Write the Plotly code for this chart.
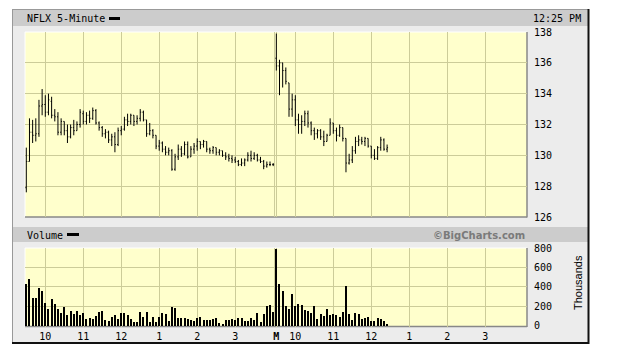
import plotly.graph_objects as go

W, H = 619, 349
def X(p): return p / W
def Y(p): return 1 - p / H

# ---------------- data ----------------
# Day 1 (Friday) 5-minute bars, 9:30 .. 16:00
day1_open = [127.9,129.6,131.5,131.3,131.4,133.2,133.3,132.8,133.5,132.6,
             132.5,131.5,132.2,131.6,131.2,131.8,131.6,132.0,132.7,132.2,
             132.6,132.4,132.9,132.1,131.8,131.4,131.5,131.0,131.2,130.7,
             131.6,131.7,132.3,132.2,132.6,132.2,132.4,132.8,132.3,131.4,
             131.6,131.3,130.6,130.8,130.4,130.2,130.3,129.1,129.9,130.4,
             130.1,130.7,129.9,130.4,130.6,130.9,130.7,130.9,130.4,130.3,
             130.5,130.2,130.3,130.0,129.9,129.8,129.7,129.6,129.4,129.5,
             129.7,130.0,129.8,130.0,129.7,129.6,129.3,129.4,129.4]
day1_high = [130.5,132.4,132.3,132.4,133.6,134.3,133.9,134.0,133.8,133.0,
             132.8,132.4,132.2,132.0,132.0,132.3,132.2,133.0,132.9,132.8,
             132.9,133.1,133.0,132.2,131.9,131.7,131.6,131.4,131.5,131.8,
             131.9,132.5,132.7,132.7,132.6,132.6,133.0,132.9,132.3,132.1,
             131.7,131.3,131.0,130.9,130.6,130.5,130.4,130.1,130.7,130.6,
             130.9,130.9,130.6,130.8,131.1,130.9,131.0,130.9,130.5,130.6,
             130.5,130.4,130.3,130.2,130.1,130.0,129.9,129.7,129.8,129.8,
             130.2,130.3,130.2,130.1,129.9,129.7,129.6,129.6,129.5]
day1_low = [127.6,129.6,130.8,130.9,131.2,132.6,132.5,132.6,132.4,132.2,
            131.3,131.3,131.3,130.8,131.1,131.3,131.6,131.8,132.0,132.0,
            132.1,132.3,132.0,131.6,131.2,131.1,130.8,130.6,130.2,130.6,
            131.3,131.6,131.9,132.0,131.9,132.0,132.2,132.2,131.2,131.3,
            131.1,130.4,130.3,130.2,130.0,130.0,129.0,129.0,129.7,129.9,
            130.0,129.8,129.9,130.1,130.3,130.4,130.5,130.2,130.1,130.1,
            130.0,130.0,129.9,129.7,129.6,129.5,129.5,129.3,129.3,129.3,
            129.6,129.6,129.7,129.6,129.5,129.1,129.2,129.3,129.3]
day1_close = [129.6,131.5,131.3,131.4,133.2,133.3,132.8,133.6,132.6,132.5,
              131.5,132.2,131.6,131.2,131.8,131.6,132.0,132.8,132.2,132.6,
              132.4,132.9,132.1,131.8,131.4,131.5,131.0,131.2,130.7,131.6,
              131.7,132.3,132.2,132.6,132.2,132.4,132.8,132.3,131.4,131.6,
              131.3,130.6,130.8,130.4,130.2,130.3,129.1,129.9,130.4,130.1,
              130.7,129.9,130.4,130.6,130.9,130.7,130.9,130.4,130.3,130.5,
              130.2,130.3,130.0,129.9,129.8,129.7,129.6,129.4,129.5,129.7,
              130.0,129.8,130.0,129.7,129.6,129.3,129.4,129.4,129.4]
day1_volume = [431,483,290,290,393,359,235,172,276,224,
               172,128,193,110,152,117,152,110,131,66,
               83,69,104,138,148,55,48,90,107,69,
               131,131,107,69,38,38,138,86,138,38,
               93,35,90,135,121,45,193,183,79,79,
               79,72,55,45,83,93,55,55,62,69,
               83,28,14,59,59,69,59,76,83,48,
               48,79,55,131,41,121,204,214,145]

# Day 2 (Monday) 5-minute bars, 9:30 .. 12:25
day2_open = [136.3,135.8,136.0,135.5,134.7,133.0,133.6,132.3,132.0,132.2,
             132.7,132.1,131.6,131.4,131.6,131.2,130.9,131.3,132.1,131.6,
             131.3,131.8,131.1,129.5,129.7,130.3,130.9,131.0,130.9,131.1,
             130.6,130.0,129.8,130.5,131.0,130.4]
day2_high = [137.9,136.2,136.0,135.7,134.7,134.0,133.9,132.7,132.6,132.9,
             132.9,132.2,131.8,131.7,131.7,131.6,131.4,132.4,132.1,131.8,
             132.0,131.8,131.1,130.1,130.6,131.2,131.3,131.2,131.2,131.1,
             130.6,130.4,130.6,131.2,131.1,130.7]
day2_low = [135.5,133.9,134.4,134.6,132.5,132.5,131.9,131.4,131.4,131.9,
            131.8,131.3,131.0,131.1,131.0,130.6,130.9,131.3,131.4,130.9,
            131.2,130.9,128.9,129.4,129.5,130.1,130.6,130.7,130.6,130.5,
            129.8,129.7,129.7,130.3,130.3,130.2]
day2_close = [135.8,136.0,135.5,134.8,133.0,133.6,132.3,132.0,132.2,132.7,
              132.1,131.6,131.4,131.6,131.2,130.9,131.3,132.1,131.6,131.3,
              131.8,131.1,129.5,129.7,130.3,130.9,131.0,130.9,131.1,130.6,
              130.0,129.8,130.5,131.0,130.4,130.5]
day2_volume = [786,431,359,204,172,328,204,224,214,162,
               155,135,204,69,121,100,172,114,124,107,
               90,141,414,121,62,131,121,69,83,93,
               48,48,83,69,45,21]

hour_labels = ["10", "11", "12", "1", "2", "3"]
day2_marker = "M"
price_ticks = [126, 128, 130, 132, 134, 136, 138]
volume_ticks = [0, 200, 400, 600, 800]

# ---------------- positions (5-minute slots) ----------------
session_open_min = 9 * 60 + 30
day1_slots = list(range(len(day1_open)))
day2_start = len(day1_open)
day2_slots = [day2_start + k for k in range(len(day2_open))]
hour_slots = [(h * 60 - session_open_min) // 5 for h in range(10, 16)]

tickvals = hour_slots + [day2_start] + [day2_start + s for s in hour_slots]
ticktext = hour_labels + ["<b>" + day2_marker + "</b>"] + hour_labels

slot0_px, slot_px = 26.3, 3.165
x_range = [(25 - slot0_px) / slot_px, (527 - slot0_px) / slot_px]

slots = day1_slots + day2_slots
opens = day1_open + day2_open
highs = day1_high + day2_high
lows = day1_low + day2_low
closes = day1_close + day2_close
vols = day1_volume + day2_volume

GRID = "#cccc99"
PLOTBG = "#ffffcc"
MONO = "DejaVu Sans Mono"

fig = go.Figure()
fig.add_trace(go.Ohlc(
    x=slots, open=opens, high=highs, low=lows, close=closes,
    increasing=dict(line=dict(color="black", width=1)),
    decreasing=dict(line=dict(color="black", width=1)),
    tickwidth=0.3, xaxis="x", yaxis="y", showlegend=False, hoverinfo="skip"))
fig.add_trace(go.Bar(
    x=slots, y=vols, width=0.32, marker=dict(color="black", line=dict(width=0)),
    xaxis="x2", yaxis="y2", showlegend=False, hoverinfo="skip"))

shapes = []
def rect(x0, y0, x1, y1, fill, line=None):
    shapes.append(dict(type="rect", xref="paper", yref="paper", layer="below",
                       x0=X(x0), x1=X(x1), y0=Y(y1), y1=Y(y0),
                       fillcolor=fill, line=dict(width=0) if line is None else line))
def hline(x0, x1, y, color, w=1):
    shapes.append(dict(type="line", xref="paper", yref="paper", layer="below",
                       x0=X(x0), x1=X(x1), y0=Y(y), y1=Y(y), line=dict(color=color, width=w)))
def vline(x, y0, y1, color, w=1):
    shapes.append(dict(type="line", xref="paper", yref="paper", layer="below",
                       x0=X(x), x1=X(x), y0=Y(y0), y1=Y(y1), line=dict(color=color, width=w)))

rect(12, 9, 589, 344, "#ececec")
rect(13, 10, 588, 26, "#cccccc")
rect(13, 227, 588, 242, "#cccccc")
rect(25, 32, 527, 217, PLOTBG)
rect(25, 248, 527, 326.5, PLOTBG)
hline(12, 589, 9.5, "#999999")
vline(12.5, 9, 344, "#999999")
vline(588.5, 9, 344, "#111111", 2)
hline(12, 589, 343, "#111111", 2)
# plot borders (inset look)
hline(25, 527, 32, "#ffffff")
vline(25, 32, 217, "#ffffff")
hline(25, 527, 217, "#888888", 1.5)
vline(527, 32, 217.5, "#888888", 1.5)
hline(25, 527, 248, "#ffffff")
vline(25, 248, 326.5, "#ffffff")
hline(25, 527, 326.5, "#888888", 1.5)
vline(527, 248, 327, "#888888", 1.5)
# second line of the day separator
sep_px = slot0_px + day2_start * slot_px - 1.8
vline(sep_px, 32, 217, GRID)
vline(sep_px, 248, 326, GRID)

# legend dashes
shapes.append(dict(type="rect", xref="paper", yref="paper", x0=X(109), x1=X(120), y0=Y(20), y1=Y(17),
                   fillcolor="black", line=dict(width=0)))
shapes.append(dict(type="rect", xref="paper", yref="paper", x0=X(67), x1=X(79), y0=Y(236), y1=Y(233),
                   fillcolor="black", line=dict(width=0)))

ann = [
    dict(text="NFLX 5-Minute", x=X(25), y=Y(18.5), xanchor="left", yanchor="middle",
         font=dict(family=MONO, size=10, color="black")),
    dict(text="12:25 PM", x=X(583), y=Y(18.5), xanchor="right", yanchor="middle",
         font=dict(family=MONO, size=10, color="black")),
    dict(text="Volume", x=X(25), y=Y(235), xanchor="left", yanchor="middle",
         font=dict(family=MONO, size=10, color="black")),
    dict(text="<b>©BigCharts.com</b>", x=X(527), y=Y(235), xanchor="right", yanchor="middle",
         font=dict(family="DejaVu Sans", size=10, color="#7a7a7a")),
    dict(text="Thousands", x=X(578), y=Y(283), xanchor="center", yanchor="middle", textangle=-90,
         font=dict(family="Liberation Sans", size=11, color="black")),
]
for a in ann:
    a.update(xref="paper", yref="paper", showarrow=False)

fig.update_layout(
    template="none",
    width=W, height=H, margin=dict(l=0, r=0, t=0, b=0, pad=0), autosize=False,
    paper_bgcolor="white", plot_bgcolor="rgba(0,0,0,0)",
    shapes=shapes, annotations=ann, showlegend=False, bargap=0,
    xaxis=dict(domain=[X(25), X(527)], range=x_range, anchor="y", automargin=False,
               tickvals=tickvals, showticklabels=False, ticks="",
               showgrid=True, gridcolor=GRID, gridwidth=1, zeroline=False, showline=False,
               rangeslider=dict(visible=False), fixedrange=True),
    yaxis=dict(domain=[Y(217), Y(32)], range=[126, 138], side="right", anchor="x", automargin=False,
               tickvals=price_ticks, ticks="", ticklabelstandoff=6,
               tickfont=dict(family=MONO, size=10, color="black"),
               showgrid=True, gridcolor=GRID, gridwidth=1, zeroline=False, showline=False),
    xaxis2=dict(domain=[X(25), X(527)], range=x_range, anchor="y2", automargin=False,
                tickvals=tickvals, ticktext=ticktext, ticks="", ticklabelstandoff=2,
                tickfont=dict(family=MONO, size=10, color="black"),
                showgrid=True, gridcolor=GRID, gridwidth=1, zeroline=False, showline=False),
    yaxis2=dict(domain=[Y(326.5), Y(248)], range=[-8, 800], side="right", anchor="x2", automargin=False,
                tickvals=volume_ticks, ticks="", ticklabelstandoff=6,
                tickfont=dict(family=MONO, size=10, color="black"),
                showgrid=True, gridcolor=GRID, gridwidth=1, zeroline=False, showline=False),
)

fig.write_html("out.html")
